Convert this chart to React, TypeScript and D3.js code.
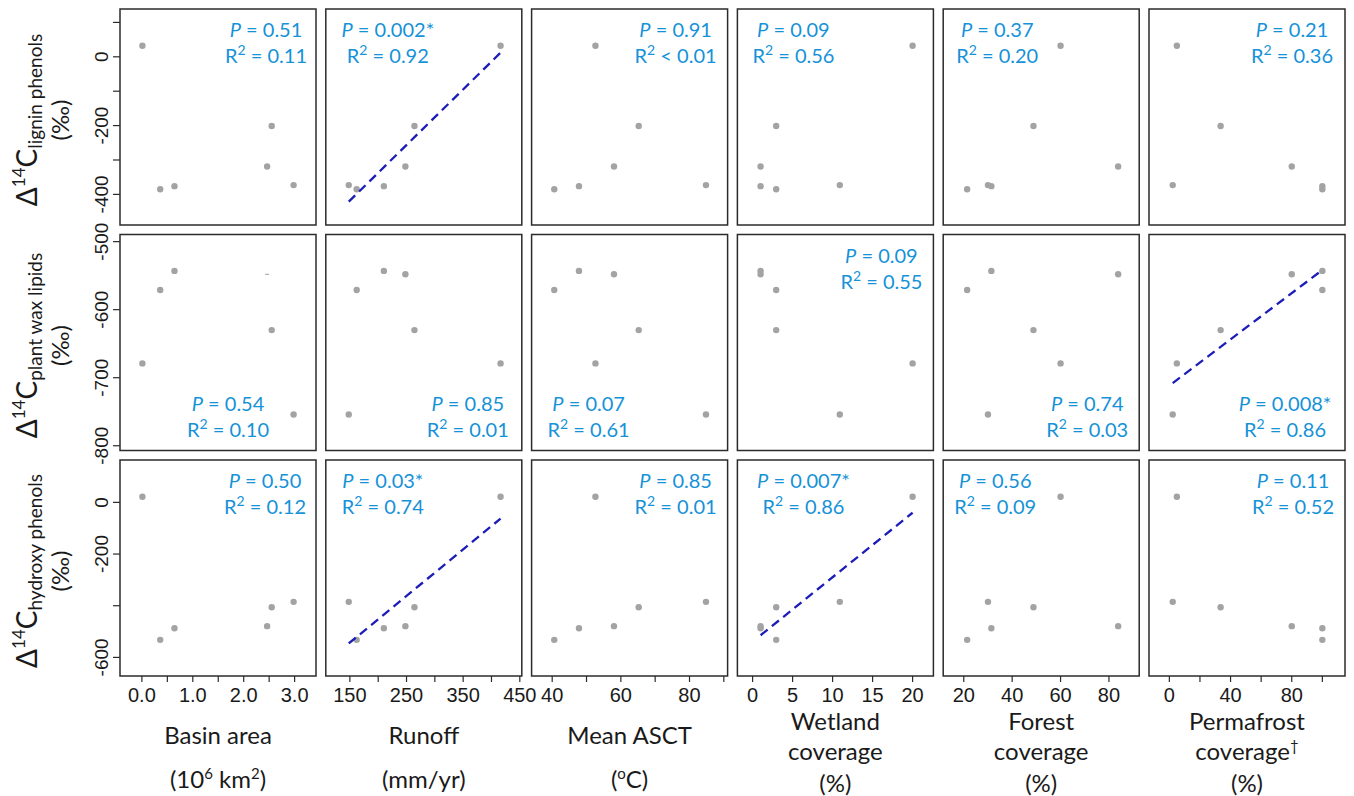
import * as d3 from "d3";
import React from "react";

// one value per river, same order in every array
const basinArea = [0.01, 0.36, 0.64, 2.46, 2.55, 2.98];
const runoff = [416, 162, 210, 248, 264, 148];
const meanAsct = [52.6, 40.6, 47.8, 58.0, 65.2, 84.8];
const wetland = [20.0, 2.95, 1.0, 1.0, 2.95, 10.9];
const forest = [60.0, 21.4, 31.4, 83.8, 48.8, 30.0];
const permafrost = [4.9, 100, 100, 80, 33.5, 2.2];

const ligninPhenols = [32, -385, -376, -319, -201, -373];
const plantWaxLipids = [-679, -571, -543, -548, -630, -754];
const hydroxyPhenols = [22, -532, -487, -479, -406, -385];

const pValues = [
  ["0.51", "0.002*", "0.91", "0.09", "0.37", "0.21"],
  ["0.54", "0.85", "0.07", "0.09", "0.74", "0.008*"],
  ["0.50", "0.03*", "0.85", "0.007*", "0.56", "0.11"],
];
const rSquared = [
  ["= 0.11", "= 0.92", "< 0.01", "= 0.56", "= 0.20", "= 0.36"],
  ["= 0.10", "= 0.01", "= 0.61", "= 0.55", "= 0.03", "= 0.86"],
  ["= 0.12", "= 0.74", "= 0.01", "= 0.86", "= 0.09", "= 0.52"],
];
// significant regressions: [row, col]
const fitted = [[0, 1], [1, 5], [2, 1], [2, 3]];

const xTicks = [
  [0, 0.5, 1, 1.5, 2, 2.5, 3],
  [150, 200, 250, 300, 350, 400, 450],
  [40, 50, 60, 70, 80, 90],
  [0, 5, 10, 15, 20],
  [20, 40, 60, 80],
  [0, 20, 40, 60, 80, 100],
];
const xTickLabels = [
  [0, 1, 2, 3],
  [150, 250, 350, 450],
  [40, 60, 80],
  [0, 5, 10, 15, 20],
  [20, 40, 60, 80],
  [0, 40, 80],
];
const yTicks = [
  [100, 0, -100, -200, -300, -400],
  [-500, -600, -700, -800],
  [0, -200, -400, -600],
];
const yTickLabels = [
  [0, -200, -400],
  [-500, -600, -700, -800],
  [0, -200, -600],
];

const xData = [basinArea, runoff, meanAsct, wetland, forest, permafrost];
const yData = [ligninPhenols, plantWaxLipids, hydroxyPhenols];

// layout
const W = 1354, H = 796;
const left0 = 120, colStep = 205.8, pw = 196;
const top0 = 9, rowStep = 225.5, ph = 216;
const xDomains = [[-0.43, 3.42], [107.5, 453.5], [34, 91.1], [-1.9, 22.6], [11.5, 92.5], [-13.3, 114.8]];
const yDomains = [[-489, 139], [-807, -489.5], [-672, 164]];
// annotation centre (from panel left) and top/bottom placement
const annot = [
  [[146, "t"], [62, "t"], [144, "t"], [56, "t"], [54, "t"], [143, "t"]],
  [[108, "b"], [142, "b"], [57, "b"], [144, "t"], [144, "b"], [136, "b"]],
  [[145, "t"], [57, "t"], [144, "t"], [66, "t"], [52, "t"], [144, "t"]],
];

const blue = "#1592d8";
const sans = "Lato, 'Open Sans', sans-serif";
const arial = "'Liberation Sans', Arial, sans-serif";

function lsq(xs: number[], ys: number[]) {
  const mx = d3.mean(xs)!, my = d3.mean(ys)!;
  let sxy = 0, sxx = 0;
  xs.forEach((x, i) => { sxy += (x - mx) * (ys[i] - my); sxx += (x - mx) ** 2; });
  const b = sxy / sxx;
  return (x: number) => my + b * (x - mx);
}

function Panel({ r, c }: { r: number; c: number }) {
  const x0 = left0 + c * colStep, y0 = top0 + r * rowStep;
  const xs = d3.scaleLinear().domain(xDomains[c]).range([x0, x0 + pw]);
  const ys = d3.scaleLinear().domain(yDomains[r]).range([y0 + ph, y0]);
  const px = xData[c], py = yData[r];
  const isFit = fitted.some(([fr, fc]) => fr === r && fc === c);
  let fitPath: string | null = null;
  if (isFit) {
    const f = lsq(px, py);
    const ext = d3.extent(px) as [number, number];
    fitPath = d3.line<number>().x(v => xs(v)).y(v => ys(f(v)))(ext);
  }
  const [cx, pos] = annot[r][c] as [number, string];
  const ax = x0 + cx;
  const b1 = pos === "t" ? y0 + 28 : y0 + ph - 40;
  const b2 = b1 + 26;
  return (
    <g>
      <rect x={x0} y={y0} width={pw} height={ph} fill="white" stroke="#2b2b2b" strokeWidth={1.5} />
      {px.map((xv, i) =>
        r === 1 && c === 0 && i === 3 ? (
          <line key={i} x1={xs(xv) - 2} x2={xs(xv) + 2} y1={ys(py[i])} y2={ys(py[i])} stroke="#9e9e9e" strokeWidth={1} />
        ) : (
          <circle key={i} cx={xs(xv)} cy={ys(py[i])} r={3.2} fill="#a3a3a3" />
        )
      )}
      {fitPath && (
        <path d={fitPath} fill="none" stroke="#1c1cb8" strokeWidth={2.3} strokeDasharray="9,5.5" />
      )}
      <text x={ax} y={b1} textAnchor="middle" fontFamily={sans} fontSize={20} fill={blue}>
        <tspan fontStyle="italic">P</tspan> = {pValues[r][c]}
      </text>
      <text x={ax} y={b2} textAnchor="middle" fontFamily={sans} fontSize={20} fill={blue}>
        R<tspan fontSize={14} dy={-8}>2</tspan><tspan dy={8}> {rSquared[r][c]}</tspan>
      </text>
      {c === 0 &&
        yTicks[r].map(t => (
          <g key={t}>
            <line x1={x0 - 7} x2={x0} y1={ys(t)} y2={ys(t)} stroke="#2b2b2b" strokeWidth={1.2} />
            {yTickLabels[r].includes(t) && (
              <text transform={`translate(${x0 - 12},${ys(t)}) rotate(-90)`} textAnchor="middle"
                fontFamily={arial} fontSize={19} fill="#1a1a1a">{t}</text>
            )}
          </g>
        ))}
      {r === 2 &&
        xTicks[c].map(t => (
          <g key={t}>
            <line x1={xs(t)} x2={xs(t)} y1={y0 + ph} y2={y0 + ph + 6} stroke="#2b2b2b" strokeWidth={1.2} />
            {xTickLabels[c].includes(t) && (
              <text x={xs(t)} y={y0 + ph + 26} textAnchor="middle" fontFamily={arial} fontSize={20} fill="#1a1a1a">
                {c === 0 ? d3.format(".1f")(t) : t}
              </text>
            )}
          </g>
        ))}
    </g>
  );
}

const ySubs = ["lignin phenols", "plant wax lipids", "hydroxy phenols"];

function YTitle({ r }: { r: number }) {
  const cy = top0 + r * rowStep + ph / 2 + 3;
  return (
    <g fontFamily={sans} fill="#1a1a1a">
      <text transform={`translate(37,${cy}) rotate(-90)`} textAnchor="middle" fontSize={28}>
        Δ<tspan fontSize={17} dy={-12}>14</tspan><tspan dy={12}>C</tspan>
        <tspan fontSize={19} dy={5}>{ySubs[r]}</tspan>
      </text>
      <text transform={`translate(69,${cy}) rotate(-90)`} textAnchor="middle" fontSize={24}>(‰)</text>
    </g>
  );
}

function XTitle({ c }: { c: number }) {
  const cx = left0 + c * colStep + pw / 2;
  const p = { x: cx, textAnchor: "middle" as const, fontFamily: sans, fontSize: 24, fill: "#1a1a1a" };
  if (c === 0)
    return (
      <g>
        <text {...p} y={744}>Basin area</text>
        <text {...p} y={788}>(10<tspan fontSize={15} dy={-9}>6</tspan><tspan dy={9}> km</tspan><tspan fontSize={15} dy={-9}>2</tspan><tspan dy={9}>)</tspan></text>
      </g>
    );
  if (c === 1)
    return (
      <g>
        <text {...p} y={744}>Runoff</text>
        <text {...p} y={788}>(mm/yr)</text>
      </g>
    );
  if (c === 2)
    return (
      <g>
        <text {...p} y={744}>Mean ASCT</text>
        <text {...p} y={788}>(<tspan fontSize={15} dy={-9}>o</tspan><tspan dy={9}>C)</tspan></text>
      </g>
    );
  const first = ["Wetland", "Forest", "Permafrost"][c - 3];
  return (
    <g>
      <text {...p} y={730}>{first}</text>
      <text {...p} y={760}>coverage{c === 5 && <tspan fontSize={15} dy={-9}>†</tspan>}</text>
      <text {...p} y={792}>(%)</text>
    </g>
  );
}

export default function App() {
  const rows = [0, 1, 2], cols = [0, 1, 2, 3, 4, 5];
  return (
    <svg width={W} height={H} style={{ position: "absolute", left: 0, top: 0, background: "white" }}>
      {rows.map(r => cols.map(c => <Panel key={`${r}-${c}`} r={r} c={c} />))}
      {rows.map(r => <YTitle key={r} r={r} />)}
      {cols.map(c => <XTitle key={c} c={c} />)}
    </svg>
  );
}
